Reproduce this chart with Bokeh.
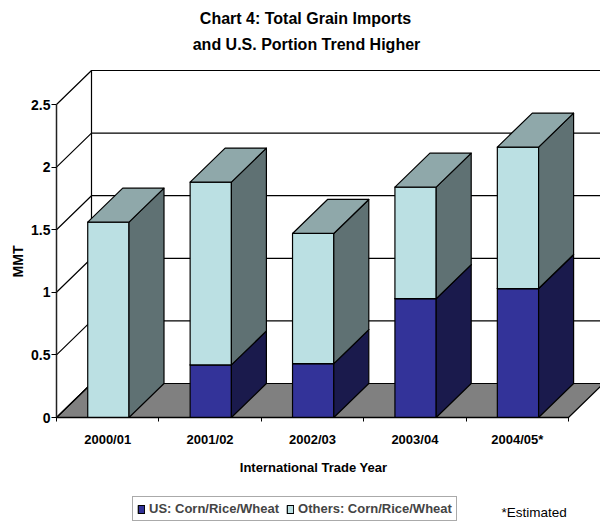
import math

from bokeh.embed import file_html
from bokeh.resources import INLINE
from bokeh.plotting import figure
from bokeh.models import (Range1d, FixedTicker, Label, Legend, LegendItem, LinearAxis)

# Grain imports by trade year, million metric tons
years = ["2000/01", "2001/02", "2002/03", "2003/04", "2004/05*"]
us_grain = [0.0, 0.42, 0.43, 0.95, 1.03]
other_grain = [1.56, 1.46, 1.04, 0.89, 1.13]
y_ticks = [0, 0.5, 1, 1.5, 2, 2.5]

# Pixels per axis unit, with the axes' origin at pixel (56, 417)
PX_X = 102.4
PX_Y = 125.2

# Oblique projection: how far the back of the box shifts, in axis units
DX = 35 / PX_X
DY = 34 / PX_Y
BAR_START = 0.305
BAR_WIDTH = 0.403

FONT = "Liberation Sans"

p = figure(width=600, height=523, output_backend="svg", toolbar_location=None,
           x_range=Range1d(-56 / PX_X, 544 / PX_X), y_range=Range1d(-106 / PX_Y, 417 / PX_Y),
           x_axis_type=None, y_axis_type=None,
           min_border_left=0, min_border_right=0, min_border_top=0, min_border_bottom=0)
p.outline_line_color = None
p.grid.visible = False
p.background_fill_color = "white"
p.border_fill_color = "white"

# Floor of the box
p.patch([0, 5, 5 + DX, DX], [0, 0, DY, DY], fill_color="#808080", line_color="black", line_width=1.2)

# Back wall, side wall and gridlines
far = 6.0
for t in y_ticks:
    p.line([0, DX, far], [t, t + DY, t + DY], line_color="black", line_width=1.2)
p.line([DX, DX], [DY, 2.5 + DY], line_color="black", line_width=1.2)


def box(i, low, high, front, side, top):
    x0 = i + BAR_START
    x1 = x0 + BAR_WIDTH
    face = p.patch([x0, x1, x1, x0], [low, low, high, high], fill_color=front,
                   line_color="black", line_width=1.2, line_join="round")
    p.patch([x1, x1 + DX, x1 + DX, x1], [low, low + DY, high + DY, high], fill_color=side,
            line_color="black", line_width=1.2, line_join="round")
    p.patch([x0, x1, x1 + DX, x0 + DX], [high, high, high + DY, high + DY], fill_color=top,
            line_color="black", line_width=1.2, line_join="round")
    return face


us_face = others_face = None
for i in range(len(years)):
    total = us_grain[i] + other_grain[i]
    if us_grain[i] > 0:
        us_face = box(i, 0, us_grain[i], "#333399", "#1A1A4C", "#262673")
    others_face = box(i, us_grain[i], total, "#BBE0E3", "#5F7173", "#8FA8AA")

# Axes pinned to the origin of the box
yaxis = LinearAxis(fixed_location=0, ticker=FixedTicker(ticks=y_ticks), bounds=(0, 2.5),
                   axis_line_color="#222222", axis_line_width=1.5,
                   major_tick_line_color="black", major_tick_out=5, major_tick_in=0,
                   minor_tick_out=0, minor_tick_in=0,
                   major_label_text_color="black",
                   major_label_text_font=FONT, major_label_text_font_style="bold",
                   major_label_text_font_size="14px", major_label_standoff=1)
p.add_layout(yaxis, "left")

centres = [i + 0.5 for i in range(len(years))]
edges = list(range(len(years) + 1))
xaxis = LinearAxis(fixed_location=0, ticker=FixedTicker(ticks=centres, minor_ticks=edges), bounds=(0, 5),
                   major_label_overrides=dict(zip(centres, years)),
                   axis_line_color="black", axis_line_width=1.5,
                   major_tick_out=0, major_tick_in=0,
                   minor_tick_line_color="black", minor_tick_out=4, minor_tick_in=0,
                   major_label_text_color="black",
                   major_label_text_font=FONT, major_label_text_font_style="bold",
                   major_label_text_font_size="13px", major_label_standoff=10)
p.add_layout(xaxis, "below")

# Legend boxed under the axis title
legend = Legend(items=[LegendItem(label="US: Corn/Rice/Wheat", renderers=[us_face]),
                       LegendItem(label="Others: Corn/Rice/Wheat", renderers=[others_face])],
                orientation="horizontal", location=(132, 2),
                border_line_color="#555555", border_line_width=1.5,
                glyph_width=8, glyph_height=10, label_standoff=4, spacing=7,
                padding=4, margin=0, label_height=14,
                label_text_font=FONT, label_text_font_style="bold", label_text_font_size="13px")
p.add_layout(legend, "center")


def note(text, x, y, size, style="bold", angle=0.0, align="center"):
    # x and y are pixels from the page's top-left corner
    p.add_layout(Label(x=x, y=523 - y, x_units="screen", y_units="screen", text=text, angle=angle,
                       text_align=align, text_baseline="middle", text_font=FONT,
                       text_font_style=style, text_font_size=size, text_color="black"))


# Two-line heading, axis titles and the footnote
note("Chart 4: Total Grain Imports", 305, 18, "16px")
note("and U.S. Portion Trend Higher", 306, 44, "16px")
note("International Trade Year", 313, 467, "13px")
note("MMT", 17, 261, "14px", angle=math.pi / 2)
note("*Estimated", 501, 512, "13.5px", style="normal", align="left")

open("out.html", "w").write(file_html(p, INLINE))
